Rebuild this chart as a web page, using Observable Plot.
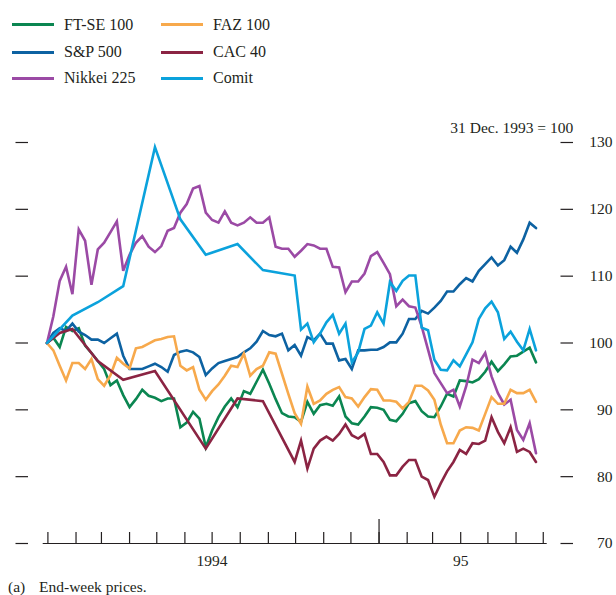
<!DOCTYPE html>
<html>
<head>
<meta charset="utf-8">
<script src="https://cdn.jsdelivr.net/npm/d3@7"></script>
<script src="https://cdn.jsdelivr.net/npm/@observablehq/plot@0.6"></script>
<style>
  body { margin: 0; background: #fff; }
  #wrap { position: relative; width: 616px; height: 595px; font-family: "Liberation Serif", "Times New Roman", serif; color: #231f20; }
  #legend { position: absolute; left: 12px; top: 10px; display: grid; grid-template-columns: 149px 150px; grid-template-rows: 29px 26px 26px; align-items: center; font-size: 16px; }
  .item { display: flex; align-items: center; white-space: nowrap; }
  .sw { width: 42px; height: 3px; margin-right: 10px; }
  #chart { position: absolute; left: 0; top: 100px; }
  #caption { position: absolute; top: 578px; left: 8px; font-size: 15.5px; }
  #caption span.t { position: absolute; left: 31px; white-space: nowrap; }
</style>
</head>
<body>
<div id="wrap">
  <div id="legend"></div>
  <div id="chart"></div>
  <div id="caption"><span>(a)</span><span class="t">End-week prices.</span></div>
</div>
<script>
// ---- data (31 Dec. 1993 = 100), end-week values; null = no observation drawn ----
const seriesNames = ["FT-SE 100", "FAZ 100", "S&P 500", "CAC 40", "Nikkei 225", "Comit"];
const seriesColors = ["#0b8651", "#f7a94c", "#0d62a2", "#8b2443", "#9b4aa5", "#0ba2dc"];

const ftse = [100, 100.8, 99.4, 102.4, 101.8, 102.2, 99.6, 98.5, 97.3, 96.1,
  93.7, 94.4, 92.2, 90.4, 91.6, 93.0, 92.1, 91.8, 91.3, 91.7,
  91.7, 87.4, 88.1, 89.7, 88.7, 84.4, 86.9, 88.9, 90.5, 91.7,
  90.4, 92.8, 92.4, 94.2, 96.0, 93.9, 91.6, 89.5, 89.0, 88.9,
  88.2, 91.2, 89.4, 90.7, 90.9, 90.6, 92.0, 89.0, 88.0, 87.8,
  89.0, 90.4, 90.3, 90.0, 88.5, 88.3, 89.4, 91.0, 91.3, 89.8,
  89.0, 88.9, 90.5, 92.4, 92.0, 94.4, 94.3, 94.1, 94.6, 95.7,
  97.2, 95.8, 96.8, 98.0, 98.1, 98.7, 99.3, 97.1];

const faz = [100, 98.9, 96.6, 94.4, 97.0, 97.0, 96.1, 97.6, 94.6, 93.6,
  95.2, 97.8, 96.9, 96.2, 99.2, 99.4, 99.9, 100.4, 100.6, 100.9,
  101.0, 96.6, 95.9, 96.4, 93.0, 91.5, 92.8, 93.8, 95.1, 96.6,
  96.4, 98.4, 95.1, 96.1, 96.6, 98.6, 98.4, 95.4, 92.4, 89.5,
  87.9, 93.5, 90.9, 91.4, 92.4, 93.0, 93.4, 91.9, 91.7, 90.5,
  91.9, 93.1, 93.0, 91.4, 91.4, 91.2, 90.2, 91.2, 93.6, 93.6,
  92.9, 91.5, 87.8, 85.0, 85.0, 86.9, 87.4, 87.3, 86.9, 89.4,
  91.9, 90.9, 90.9, 93.0, 92.5, 92.5, 93.0, 91.2];

const sp500 = [100, 101.5, 102.2, 101.8, 102.9, 101.7, 101.2, 100.5, 100.5, 100.0,
  100.7, 101.4, 98.1, 96.1, 96.1, 96.1, 96.5, 96.9, 96.4, 95.7,
  98.2, 98.7, 98.9, 98.6, 97.9, 95.2, 96.2, 97.0, 97.3, 97.6,
  97.9, 98.6, 99.2, 100.2, 101.8, 101.2, 101.0, 101.4, 98.9, 99.7,
  98.1, 100.9, 100.4, 101.4, 99.9, 99.9, 97.4, 97.6, 96.1, 98.9,
  98.9, 99.0, 99.0, 99.4, 100.1, 100.1, 101.4, 103.6, 103.6, 104.8,
  104.4, 105.3, 106.3, 107.7, 107.7, 108.8, 109.7, 109.2, 110.8, 111.8,
  112.8, 111.6, 112.4, 114.4, 113.5, 115.5, 118.0, 117.2];

const cac40 = [100, null, 101.5, null, 102.1, null, null, null, 97.3, null,
  null, null, 94.5, null, null, null, null, 95.8, null, null,
  null, null, null, null, null, 84.2, null, null, null, null,
  91.7, null, null, null, 91.3, null, null, null, null, 82.2,
  85.4, 81.2, 84.2, 85.4, 86.0, 85.4, 86.4, 87.8, 86.2, 85.7,
  86.4, 83.4, 83.4, 82.2, 80.2, 80.2, 81.5, 82.5, 82.5, 80.0,
  79.5, 77.0, 79.0, 80.8, 82.2, 84.0, 83.4, 85.0, 84.9, 85.4,
  88.9, 86.7, 85.0, 87.4, 83.7, 84.2, 83.7, 82.2];

const nikkei = [100, 104, 109.3, 111.4, 107.3, 117, 115.3, 108.7, 114, 115,
  116.6, 118.2, 110.8, 113.2, 115, 116, 114.4, 113.6, 114.5, 116.8,
  117.2, 119.5, 120.8, 123.1, 123.5, 119.5, 118.4, 118.0, 119.7, 118.0,
  117.6, 118.0, 118.8, 118.0, 118.0, 118.8, 114.4, 114.1, 114.1, 112.9,
  113.8, 114.8, 114.6, 114.1, 114.1, 111.4, 111.3, 107.6, 109.2, 109.2,
  110.4, 113.0, 113.6, 112.0, 110.3, 105.5, 106.5, 105.5, 105.3, 102.5,
  99, 95.5, 94, 92.5, 93, 90.5, 93.5, 97.5, 97, 98.5,
  95, 92.5, 90.8, 91.5, 87, 85.5, 88, 83.5];

const comit = [100, null, null, null, 104.1, null, null, null, 106.1, null,
  null, null, 108.5, null, null, null, null, 129.3, null, null,
  null, 118.5, null, null, null, 113.2, null, null, null, null,
  114.8, null, null, null, 110.9, null, null, null, null, 110.1,
  102.0, 102.9, 100.1, 101.4, 103.1, 104.2, 101.4, 102.9, 97.1, 98.6,
  102.1, 102.6, 104.6, 102.9, 109.1, 107.8, 109.3, 110.1, 110.1, 102.3,
  101.9, 97.5, 96.0, 95.9, 97.4, 96.5, 98.3, 100.1, 103.6, 105.2,
  106.2, 104.6, 100.6, 101.7, 100.2, 98.9, 102.1, 98.9];

const seriesValues = [ftse, faz, sp500, cac40, nikkei, comit];
const drawOrder = ["FT-SE 100", "S&P 500", "Nikkei 225", "FAZ 100", "CAC 40", "Comit"];

const yTicks = [70, 80, 90, 100, 110, 120, 130];
const yearLabels = ["1994", "95"];
const yearLabelDates = [new Date(Date.UTC(1994, 6, 1)), new Date(Date.UTC(1995, 3, 1))];
const yearBreaks = [new Date(Date.UTC(1995, 0, 1))];
const baseNote = "31 Dec. 1993 = 100";
const captionText = "End-week prices.";

// ---- weekly dates ----
const start = new Date(Date.UTC(1993, 11, 31));
const dates = d3.range(ftse.length).map(i => d3.utcDay.offset(start, 7 * i));
const monthTicks = d3.utcMonth.range(new Date(Date.UTC(1994, 0, 1)), new Date(Date.UTC(1995, 6, 2)));

const rows = [];
drawOrder.forEach(name => {
  const k = seriesNames.indexOf(name);
  seriesValues[k].forEach((v, i) => { if (v != null) rows.push({name, date: dates[i], value: v}); });
});

// ---- legend ----
const legend = document.getElementById("legend");
seriesNames.forEach((n, i) => {
  const it = document.createElement("div");
  it.className = "item";
  it.innerHTML = `<span class="sw" style="background:${seriesColors[i]}"></span><span></span>`;
  it.lastChild.textContent = n;
  legend.appendChild(it);
});

const ink = "#231f20";
const chart = Plot.plot({
  width: 616,
  height: 478,
  marginTop: 42,
  marginBottom: 35,
  marginLeft: 42.7,
  marginRight: 69.3,
  style: {fontFamily: "Liberation Serif, Times New Roman, serif", fontSize: "15.5px", color: ink, background: "transparent"},
  x: {type: "utc", domain: [dates[0], dates[dates.length - 1]], range: [46.5, 535.5], axis: null},
  y: {domain: [70, 130], axis: null},
  color: {domain: seriesNames, range: seriesColors},
  marks: [
    Plot.axisY({anchor: "left", label: null, ticks: yTicks, tickSize: 12.5, tickFormat: () => "", dx: -14.7, stroke: ink, strokeWidth: 1.2}),
    Plot.axisY({anchor: "right", label: null, ticks: yTicks, tickSize: 12.5, tickFormat: () => "", dx: 12.8, stroke: ink, strokeWidth: 1.2}),
    Plot.text(yTicks, {y: d => d, text: d => String(d), frameAnchor: "right", textAnchor: "end", dx: 65.3, fontSize: 15.5, fill: ink}),
    Plot.ruleY([70], {stroke: ink, strokeWidth: 1.2}),
    Plot.axisX({anchor: "bottom", label: null, ticks: monthTicks, tickSize: -11, tickFormat: () => "", stroke: ink, strokeWidth: 1.2}),
    Plot.axisX({anchor: "bottom", label: null, ticks: yearBreaks, tickSize: -24, tickFormat: () => "", stroke: ink, strokeWidth: 1.2}),
    Plot.text(yearLabelDates, {x: d => d, text: (d, i) => yearLabels[i], frameAnchor: "bottom", dy: 22, fontSize: 15.5, fill: ink}),
    Plot.text([baseNote], {text: d => d, frameAnchor: "top-right", textAnchor: "end", dx: 26, dy: -21, fontSize: 15.5, fill: ink}),
    Plot.line(rows, {x: "date", y: "value", z: "name", stroke: "name", strokeWidth: 2.6, strokeLinejoin: "miter", strokeMiterlimit: 4})
  ]
});
document.getElementById("chart").appendChild(chart);
document.querySelector("#caption span.t").textContent = captionText;
</script>
</body>
</html>
